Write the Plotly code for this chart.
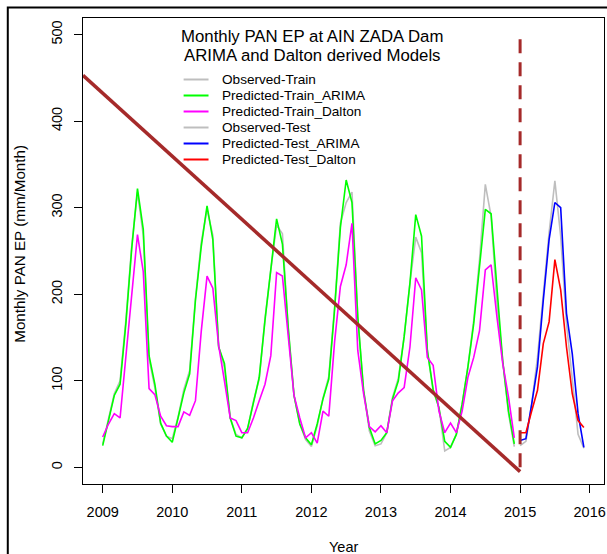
import plotly.graph_objects as go

# ---------------- data ----------------
train_years = [2009, 2010, 2011, 2012, 2013, 2014]
test_year = 2015
months = list(range(12))

obs_train = [27, 55, 85, 100, 170, 255, 318, 268, 125, 92, 50, 36,
             33, 58, 90, 112, 195, 260, 298, 268, 140, 115, 57, 38,
             34, 45, 76, 102, 172, 228, 280, 270, 160, 83, 50, 32,
             24, 48, 80, 105, 185, 282, 306, 318, 174, 89, 42, 25,
             27, 40, 81, 103, 151, 213, 266, 248, 135, 88, 69, 19,
             23, 38, 73, 116, 170, 240, 327, 290, 190, 123, 62, 24]
arima_train = [25, 55, 83, 96, 166, 252, 322, 275, 129, 96, 51, 36,
               29, 57, 86, 108, 193, 255, 302, 263, 139, 120, 57, 36,
               34, 45, 73, 104, 170, 225, 287, 258, 162, 83, 50, 34,
               26, 50, 79, 102, 182, 277, 332, 306, 174, 89, 46, 27,
               31, 40, 79, 100, 151, 213, 292, 267, 135, 90, 69, 30,
               23, 38, 73, 116, 166, 232, 298, 293, 203, 123, 65, 27]
dalton_train = [35, 50, 62, 57, 128, 201, 269, 226, 91, 84, 59, 48,
                47, 47, 64, 60, 77, 157, 221, 207, 141, 100, 57, 54,
                40, 40, 57, 77, 96, 129, 225, 221, 151, 83, 57, 34,
                40, 28, 65, 59, 145, 209, 234, 282, 135, 85, 47, 41,
                48, 40, 77, 86, 92, 139, 219, 205, 127, 118, 65, 40,
                51, 40, 65, 104, 127, 158, 228, 234, 174, 120, 81, 34]
obs_test = [25, 30, 73, 127, 200, 271, 331, 267, 166, 104, 38, 22]
arima_test = [31, 33, 73, 116, 193, 263, 306, 300, 178, 131, 62, 23]
dalton_test = [40, 40, 65, 89, 143, 168, 240, 205, 139, 85, 54, 46]

trend_x = [2008.717, 2015.0]
trend_y = [453, -5]
split_x = [2015.0, 2015.0]
split_y = [0, 500]

x_ticks = [2009, 2010, 2011, 2012, 2013, 2014, 2015, 2016]
y_ticks = [0, 100, 200, 300, 400, 500]

legend_labels = ["Observed-Train", "Predicted-Train_ARIMA", "Predicted-Train_Dalton",
                 "Observed-Test", "Predicted-Test_ARIMA", "Predicted-Test_Dalton"]
title_lines = ["Monthly PAN EP at AIN ZADA Dam", "ARIMA and Dalton derived Models"]

# ---------------- styling ----------------
C_OBS = "#BEBEBE"
C_ARIMA = "#00FF00"
C_DALTON = "#FF00FF"
C_TARIMA = "#0000FF"
C_TDALTON = "#FF0000"
C_BROWN = "#A52A2A"
legend_colors = [C_OBS, C_ARIMA, C_DALTON, C_OBS, C_TARIMA, C_TDALTON]
FONT = "Liberation Sans, Arial, sans-serif"

W, H = 607, 554
ML, MR, MT, MB = 83, 1, 18, 70
PW, PH = W - ML - MR, H - MT - MB


def px_to_paper(px, py):
    return (px - ML) / PW, (H - MB - py) / PH


x_train = [y + m / 12 for y in train_years for m in months]
x_test = [test_year + m / 12 for m in months]

fig = go.Figure()
LW = 1.6
fig.add_trace(go.Scatter(x=x_train, y=obs_train, mode="lines", line=dict(color=C_OBS, width=LW), name=legend_labels[0]))
fig.add_trace(go.Scatter(x=x_train, y=arima_train, mode="lines", line=dict(color=C_ARIMA, width=LW), name=legend_labels[1]))
fig.add_trace(go.Scatter(x=x_train, y=dalton_train, mode="lines", line=dict(color=C_DALTON, width=LW), name=legend_labels[2]))
fig.add_trace(go.Scatter(x=x_test, y=obs_test, mode="lines", line=dict(color=C_OBS, width=LW), name=legend_labels[3]))
fig.add_trace(go.Scatter(x=x_test, y=arima_test, mode="lines", line=dict(color=C_TARIMA, width=LW), name=legend_labels[4]))
fig.add_trace(go.Scatter(x=x_test, y=dalton_test, mode="lines", line=dict(color=C_TDALTON, width=LW), name=legend_labels[5]))
fig.add_trace(go.Scatter(x=trend_x, y=trend_y, mode="lines", line=dict(color=C_BROWN, width=3.5), showlegend=False))
fig.add_trace(go.Scatter(x=split_x, y=split_y, mode="lines", line=dict(color=C_BROWN, width=3, dash="14px,9px"), showlegend=False))

shapes = []
annotations = []

# outer figure border
bx0, by0 = px_to_paper(7.5, 7.5)
shapes.append(dict(type="rect", xref="paper", yref="paper", x0=bx0, y0=by0, x1=1.2, y1=-0.4,
                   line=dict(color="black", width=2), fillcolor="rgba(0,0,0,0)", layer="above"))

# custom legend (R style, no box)
for i, (lab, col) in enumerate(zip(legend_labels, legend_colors)):
    ry = 79.5 + 16 * i
    lx0, ly = px_to_paper(184, ry)
    lx1, _ = px_to_paper(209, ry)
    tx, _ = px_to_paper(221, ry)
    shapes.append(dict(type="line", xref="paper", yref="paper", x0=lx0, x1=lx1, y0=ly, y1=ly,
                       line=dict(color=col, width=2)))
    annotations.append(dict(xref="paper", yref="paper", x=tx, y=ly, text=lab, showarrow=False,
                            xanchor="left", yanchor="middle", font=dict(family=FONT, size=13.6, color="black")))

# title lines inside the plot
for i, t in enumerate(title_lines):
    tx, ty = px_to_paper(313, 36 + 20 * i)
    annotations.append(dict(xref="paper", yref="paper", x=tx, y=ty, text=t, showarrow=False,
                            xanchor="center", yanchor="middle", font=dict(family=FONT, size=16.8, color="black")))

# axis titles
ax_, ay_ = px_to_paper(345, 546.5)
annotations.append(dict(xref="paper", yref="paper", x=ax_, y=ay_, text="Year", showarrow=False,
                        xanchor="center", yanchor="middle", font=dict(family=FONT, size=14.5, color="black")))
yx_, yy_ = px_to_paper(18.5, 244)
annotations.append(dict(xref="paper", yref="paper", x=yx_, y=yy_, text="Monthly PAN EP (mm/Month)", showarrow=False,
                        textangle=-90, xanchor="center", yanchor="middle", font=dict(family=FONT, size=15.2, color="black")))

fig.update_layout(
    width=W, height=H,
    margin=dict(l=ML, r=MR, t=MT, b=MB, pad=0),
    paper_bgcolor="white", plot_bgcolor="white",
    showlegend=False,
    shapes=shapes, annotations=annotations,
    font=dict(family=FONT, size=14.5, color="black"),
    xaxis=dict(range=[2008.717, 2016.206], tickvals=x_ticks, ticktext=[str(v) for v in x_ticks],
               ticks="outside", ticklen=8, tickwidth=1, tickcolor="black",
               showline=True, linecolor="black", linewidth=1, mirror=True,
               showgrid=False, zeroline=False, ticklabelstandoff=7, ticklabeloverflow="allow",
               tickfont=dict(family=FONT, size=14.5, color="black")),
    yaxis=dict(range=[-19.3, 519.2], tickvals=y_ticks, ticktext=[str(v) for v in y_ticks],
               ticks="outside", ticklen=8, tickwidth=1, tickcolor="black", tickangle=-90,
               showline=True, linecolor="black", linewidth=1, mirror=True,
               showgrid=False, zeroline=False, ticklabelstandoff=6,
               tickfont=dict(family=FONT, size=14.5, color="black")),
)

fig.write_html("out.html", config={"displayModeBar": False},
               post_script="document.body.style.margin='0';document.body.style.overflow='hidden';")
